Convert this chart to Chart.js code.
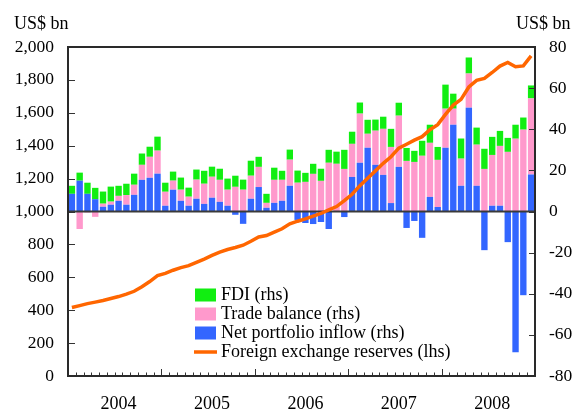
<!DOCTYPE html>
<html>
<head>
<meta charset="utf-8">
<script src="https://cdn.jsdelivr.net/npm/chart.js@4.4.1/dist/chart.umd.min.js"></script>
<style>
  body { margin: 0; background: #fff; }
  canvas { display: block; }
</style>
</head>
<body>
<canvas id="flowChart" width="573" height="410"></canvas>
<script>
// monthly, Jan 2004 - Dec 2008
const years = ["2004", "2005", "2006", "2007", "2008"];
const monthNames = ["Jan","Feb","Mar","Apr","May","Jun","Jul","Aug","Sep","Oct","Nov","Dec"];
const months = [];
years.forEach(y => monthNames.forEach(m => months.push(m + " " + y)));

// US$ bn, right axis
const portfolio = [8.6, 15.0, 8.6, 6.0, 2.3, 3.3, 5.2, 3.3, 8.1, 15.4, 16.4, 18.4,
  2.8, 10.6, 5.2, 2.8, 6.2, 3.7, 6.7, 4.7, 2.8, -1.6, -6.0, 6.2,
  11.9, 1.8, 4.2, 5.2, 12.5, -4.1, -5.6, -6.1, -5.1, -8.5, 0, -2.7,
  16.8, 23.7, 31.0, 22.7, 17.8, 4.1, 21.7, -8.0, -4.6, -12.8, 7.1, 2.2,
  31.0, 42.2, 12.5, 50.5, 12.5, -18.8, 2.8, 2.8, -14.9, -68.5, -40.7, 18.0];
const trade = [0, -8.5, -0.5, -2.6, 1.5, 1.5, 2.4, 4.7, 4.9, 7.3, 10.2, 11.2,
  6.8, 4.4, 5.4, 4.4, 9.3, 9.8, 10.2, 10.7, 7.8, 12.0, 10.6, 11.2,
  9.8, 2.4, 11.2, 10.2, 12.7, 14.0, 14.4, 18.3, 14.9, 23.7, 23.2, 20.7,
  16.1, 23.9, 6.8, 16.6, 22.4, 27.3, 24.9, 24.6, 24.1, 27.1, 26.3, 22.9,
  19.0, 7.8, 13.2, 16.6, 20.0, 20.7, 24.7, 29.1, 29.0, 35.4, 39.8, 37.0];
const fdi = [3.9, 3.9, 5.4, 5.5, 5.9, 7.3, 4.9, 5.5, 5.4, 5.5, 4.9, 6.8,
  4.4, 4.4, 5.9, 4.4, 4.9, 6.3, 4.9, 5.4, 5.4, 5.4, 4.9, 7.3,
  4.9, 4.4, 5.9, 4.4, 4.9, 5.9, 4.4, 4.9, 5.9, 6.3, 5.9, 9.3,
  5.9, 5.4, 6.8, 5.4, 5.9, 8.8, 6.3, 6.3, 5.4, 7.3, 8.8, 6.3,
  11.7, 7.3, 9.8, 7.8, 8.3, 9.8, 8.8, 7.3, 6.8, 6.8, 5.9, 6.3];
// US$ bn, left axis
const reserves = [416, 428, 440, 449, 459, 471, 483, 498, 515, 543, 574, 610,
  624, 643, 659, 671, 691, 711, 733, 753, 769, 781, 795, 819,
  845, 854, 875, 895, 925, 941, 955, 972, 988, 1010, 1030, 1066,
  1105, 1157, 1202, 1247, 1293, 1333, 1385, 1409, 1434, 1455, 1497, 1528,
  1590, 1647, 1682, 1757, 1797, 1809, 1845, 1884, 1906, 1880, 1885, 1946];

const serif = "'Liberation Serif', 'Times New Roman', serif";
const fontTicks = { family: serif, size: 17.5 };
const fontYears = { family: serif, size: 18 };

const decor = {
  id: "decor",
  beforeDatasetDraw(chart, args) {
    if (args.index !== 3) return;
    const a = chart.chartArea;
    const y0 = chart.scales.y1.getPixelForValue(0);
    const c = chart.ctx;
    c.save();
    c.strokeStyle = "#3a3a3a";
    c.lineWidth = 2;
    c.beginPath();
    c.moveTo(a.left, y0);
    c.lineTo(a.right, y0);
    c.stroke();
    c.restore();
  },
  afterDraw(chart) {
    const a = chart.chartArea;
    const c = chart.ctx;
    const yl = chart.scales.y;
    const yr = chart.scales.y1;
    c.save();
    c.strokeStyle = "#333";
    c.lineWidth = 1;
    // x ticks, inside
    const step = (a.right - a.left) / months.length;
    c.beginPath();
    for (let i = 0; i <= months.length; i++) {
      const px = Math.round(a.left + i * step) + 0.5;
      const len = i % 12 === 0 ? 7 : 3.5;
      c.moveTo(px, a.bottom);
      c.lineTo(px, a.bottom - len);
    }
    // left ticks
    for (let v = 0; v <= 2000; v += 200) {
      const py = Math.round(yl.getPixelForValue(v)) + 0.5;
      c.moveTo(a.left, py);
      c.lineTo(a.left + 7, py);
    }
    // right ticks
    for (let v = -80; v <= 80; v += 20) {
      const py = Math.round(yr.getPixelForValue(v)) + 0.5;
      c.moveTo(a.right, py);
      c.lineTo(a.right - 6, py);
    }
    c.stroke();
    // frame
    c.lineWidth = 2;
    c.strokeStyle = "#2a2a2a";
    c.strokeRect(a.left, a.top, a.right - a.left, a.bottom - a.top);

    // unit labels
    c.fillStyle = "#000";
    c.font = "18px " + serif;
    c.textBaseline = "middle";
    c.textAlign = "left";
    c.fillText("US$ bn", 14, 24);
    c.fillText("US$ bn", 516, 24);

    // legend
    const ds = chart.data.datasets;
    const rows = [ds[2], ds[1], ds[0], ds[3]];
    rows.forEach((d, i) => {
      const cy = 295 + i * 19;
      if (d.type === "line") {
        c.strokeStyle = d.borderColor;
        c.lineWidth = 3.5;
        c.beginPath();
        c.moveTo(194, cy);
        c.lineTo(217, cy);
        c.stroke();
      } else {
        c.fillStyle = d.backgroundColor;
        c.fillRect(195, cy - 6.5, 21, 13);
      }
      c.fillStyle = "#000";
      c.fillText(d.label, 221, cy);
    });
    c.restore();
  }
};

const ctx = document.getElementById("flowChart").getContext("2d");

new Chart(ctx, {
  type: "bar",
  data: {
    labels: months,
    datasets: [
      { label: "Net portfolio inflow (rhs)", data: portfolio, backgroundColor: "#3366ff",
        yAxisID: "y1", stack: "flows", order: 1, barPercentage: 0.82, categoryPercentage: 1 },
      { label: "Trade balance (rhs)", data: trade, backgroundColor: "#ff99cc",
        yAxisID: "y1", stack: "flows", order: 1, barPercentage: 0.82, categoryPercentage: 1 },
      { label: "FDI (rhs)", data: fdi, backgroundColor: "#11ee11",
        yAxisID: "y1", stack: "flows", order: 1, barPercentage: 0.82, categoryPercentage: 1 },
      { type: "line", label: "Foreign exchange reserves (lhs)", data: reserves,
        borderColor: "#ff6600", borderWidth: 3.5, pointRadius: 0, tension: 0,
        yAxisID: "y", order: 0 }
    ]
  },
  options: {
    responsive: false,
    animation: false,
    layout: { padding: { top: 47, left: 0, right: 0, bottom: 0 } },
    scales: {
      x: {
        stacked: true,
        grid: { display: false, drawTicks: false },
        border: { display: false },
        ticks: {
          autoSkip: false, maxRotation: 0, minRotation: 0,
          labelOffset: 0, padding: 17,
          color: "#000", font: fontYears,
          callback: function (v, i) { return i % 12 === 6 ? months[i].slice(-4) : ""; }
        },
        afterFit: s => { s.height = 34; }
      },
      y: {
        position: "left",
        min: 0, max: 2000,
        grid: { display: false, drawTicks: false },
        border: { display: false },
        ticks: { stepSize: 200, padding: 14, color: "#000", font: fontTicks },
        afterFit: s => { s.width = 68; }
      },
      y1: {
        position: "right",
        stacked: true,
        min: -80, max: 80,
        grid: { display: false, drawTicks: false },
        border: { display: false },
        ticks: { stepSize: 20, padding: 14, color: "#000", font: fontTicks },
        afterFit: s => { s.width = 38; }
      }
    },
    plugins: {
      legend: { display: false },
      tooltip: { enabled: false }
    }
  },
  plugins: [decor]
});
</script>
</body>
</html>
